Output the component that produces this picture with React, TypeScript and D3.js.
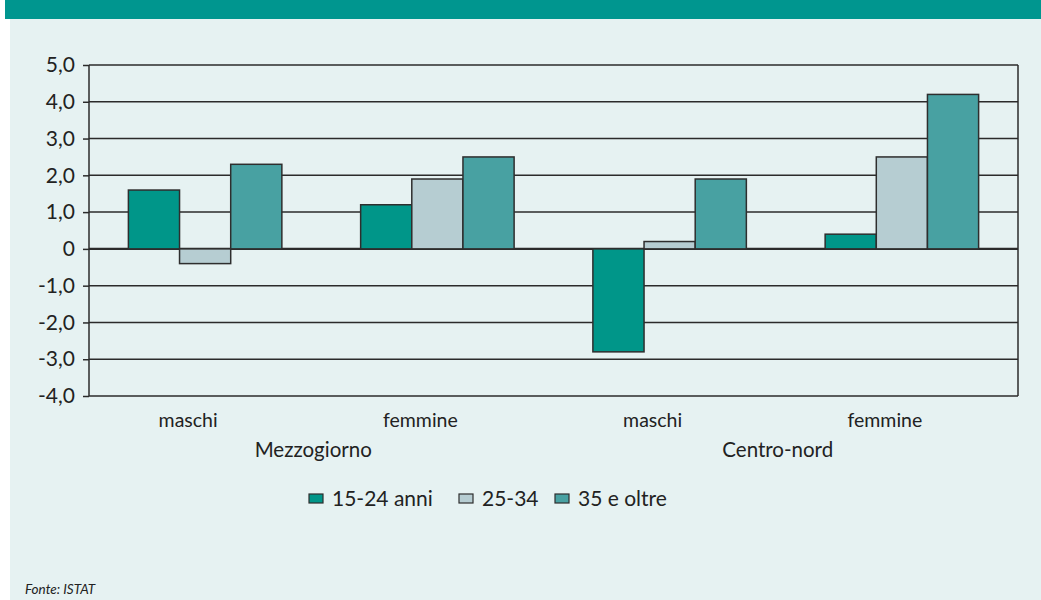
import * as d3 from "d3";
import { useEffect, useRef } from "react";

// dati
const groups = ["Mezzogiorno", "Centro-nord"];
const categories = ["maschi", "femmine", "maschi", "femmine"];
const series = ["15-24 anni", "25-34", "35 e oltre"];
const values15_24 = [1.6, 1.2, -2.8, 0.4];
const values25_34 = [-0.4, 1.9, 0.2, 2.5];
const values35 = [2.3, 2.5, 1.9, 4.2];
const yTicks = [5, 4, 3, 2, 1, 0, -1, -2, -3, -4];
const colors = ["#009689", "#b6cdd2", "#48a1a2"];

const W = 1041;
const H = 600;
const FONT = "Lato, 'Open Sans', sans-serif";

const fmt = (d: number) => (d === 0 ? "0" : d.toFixed(1).replace(".", ","));

const App = () => {
    const chartRef = useRef<SVGSVGElement | null>(null);

    useEffect(() => {
        const svg = d3.select(chartRef.current);
        svg.selectAll("*").remove();

        const margin = { top: 65, bottom: 204, left: 89, right: 23 };
        const boundsW = W - margin.left - margin.right;
        const boundsH = H - margin.top - margin.bottom;

        // sfondo e fascia del titolo
        svg.append("rect").attr("x", 10).attr("y", 0).attr("width", W - 10).attr("height", H).attr("fill", "#e6f2f2");
        svg.append("rect").attr("x", 5).attr("y", 0).attr("width", W - 5).attr("height", 19).attr("fill", "#00968f");

        const idx = categories.map((_, i) => String(i));
        const x0 = d3.scaleBand().domain(idx).range([0, boundsW]);
        const x1 = d3.scaleBand().domain(series).range([0, x0.bandwidth()]).paddingOuter(0.77);
        const y = d3.scaleLinear().domain([-4, 5]).range([boundsH, 0]);

        const g = svg.append("g").attr("transform", `translate(${margin.left},${margin.top})`);

        // griglia
        g.selectAll(".grid")
            .data(yTicks)
            .enter()
            .append("line")
            .attr("x1", 0)
            .attr("x2", boundsW)
            .attr("y1", d => y(d))
            .attr("y2", d => y(d))
            .attr("stroke", "#2b2b2b")
            .attr("stroke-width", d => (d === 0 ? 2.2 : 1.5));

        // barre
        const rows = categories.map((c, i) => ({
            i: String(i),
            vals: [values15_24[i], values25_34[i], values35[i]],
        }));
        rows.forEach(r => {
            r.vals.forEach((v, k) => {
                g.append("rect")
                    .attr("x", (x0(r.i) ?? 0) + (x1(series[k]) ?? 0))
                    .attr("y", y(Math.max(0, v)))
                    .attr("width", x1.bandwidth())
                    .attr("height", Math.abs(y(v) - y(0)))
                    .attr("fill", colors[k])
                    .attr("stroke", "#2e2e2e")
                    .attr("stroke-width", 1.5);
            });
        });

        // asse y
        const yAxis = d3.axisLeft(y)
            .tickValues(yTicks)
            .tickSize(6)
            .tickFormat(d => fmt(d as number));
        const ya = g.append("g").call(yAxis);
        ya.select(".domain").attr("stroke", "#2b2b2b").attr("stroke-width", 1.5).attr("d", `M0,0V${boundsH}`);
        ya.selectAll(".tick line").attr("stroke", "#2b2b2b").attr("stroke-width", 1.5);
        ya.selectAll(".tick text")
            .attr("x", -14)
            .attr("fill", "#222")
            .style("font-family", FONT)
            .style("font-size", "21px");

        // bordo destro
        g.append("line")
            .attr("x1", boundsW).attr("x2", boundsW)
            .attr("y1", 0).attr("y2", boundsH)
            .attr("stroke", "#2b2b2b").attr("stroke-width", 1.5);

        // etichette categorie (un po' spostate a sinistra come nell'originale)
        g.selectAll(".cat")
            .data(rows)
            .enter()
            .append("text")
            .attr("x", d => (x0(d.i) ?? 0) + x0.bandwidth() / 2 - 17)
            .attr("y", boundsH + 31)
            .attr("text-anchor", "middle")
            .attr("fill", "#222")
            .style("font-family", FONT)
            .style("font-size", "19.5px")
            .text((d, i) => categories[i]);

        g.selectAll(".grp")
            .data(groups)
            .enter()
            .append("text")
            .attr("x", (d, i) => (x0(String(i * 2 + 1)) ?? 0) - 8)
            .attr("y", boundsH + 61)
            .attr("text-anchor", "middle")
            .attr("fill", "#222")
            .style("font-family", FONT)
            .style("font-size", "20.5px")
            .text(d => d);

        // legenda
        const legendX = [309, 459, 555];
        series.forEach((s, k) => {
            svg.append("rect")
                .attr("x", legendX[k])
                .attr("y", 494)
                .attr("width", 14)
                .attr("height", 9)
                .attr("fill", colors[k])
                .attr("stroke", "#2e2e2e")
                .attr("stroke-width", 1.2);
            svg.append("text")
                .attr("x", legendX[k] + 23)
                .attr("y", 506)
                .attr("fill", "#222")
                .style("font-family", FONT)
                .style("font-size", "21px")
                .text(s);
        });

        svg.append("text")
            .attr("x", 25)
            .attr("y", 594)
            .attr("fill", "#222")
            .style("font-family", FONT)
            .style("font-size", "13.5px")
            .style("font-style", "italic")
            .text("Fonte: ISTAT");
    }, []);

    return (
        <svg
            ref={chartRef}
            width={W}
            height={H}
            style={{ position: "absolute", left: 0, top: 0, background: "#fff" }}
        ></svg>
    );
};

export default App;
